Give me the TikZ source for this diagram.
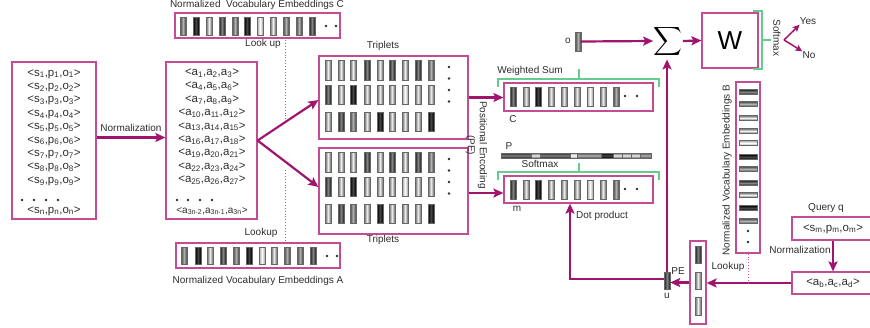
\documentclass[tikz,border=0pt]{standalone}
\usepackage{fontspec}
\setmainfont{Liberation Sans}
\usetikzlibrary{arrows.meta,calc}
\definecolor{pk}{RGB}{196,76,146}
\definecolor{ar}{RGB}{160,20,110}
\definecolor{gr}{RGB}{100,205,140}
\definecolor{tx}{RGB}{45,45,45}
\newcommand\setshade[1]{\ifcase#1\def\shE{35}\def\shM{0}\or\def\shE{58}\def\shM{6}\or\def\shE{72}\def\shM{30}\or\def\shE{88}\def\shM{48}\or\def\shE{100}\def\shM{72}\fi}
\newcommand\vstrip[4]{\setshade{#4}\shade[draw=black!60,line width=0.5pt,left color=black!\shE,right color=black!\shE,middle color=black!\shM] (#1-2.8,#2) rectangle (#1+2.8,#3);}
\newcommand\hstrip[4]{\setshade{#4}\shade[draw=black!60,line width=0.5pt,top color=black!\shE,bottom color=black!\shE,middle color=black!\shM] (#2,#1-2.5) rectangle (#3,#1+2.5);}
\newcommand\spo[1]{<s\textsubscript{#1},p\textsubscript{#1},o\textsubscript{#1}>}
\newcommand\tpa[3]{<a\textsubscript{#1},a\textsubscript{#2},a\textsubscript{#3}>}
\begin{document}
\begin{tikzpicture}[x=1pt,y=-1pt,
  box/.style={draw=pk,line width=1.2pt,inner sep=0pt},
  arr/.style={draw=ar,line width=2.2pt,-{Stealth[length=10pt,width=9pt,inset=2pt]}},
  arrs/.style={draw=ar,line width=1.5pt,-{Stealth[length=7pt,width=6.5pt,inset=1.5pt]}},
  lbl/.style={text=tx,font=\fontsize{10}{12}\selectfont,inner sep=0pt},
  trp/.style={text=tx,font=\fontsize{11.5}{12}\selectfont,inner sep=0pt},
  gbr/.style={draw=gr,line width=1.2pt},
  dotl/.style={draw=pk,line width=0.9pt,dotted}]
\useasboundingbox (0,0) rectangle (870,327);
% ---------- left box
\node[box,minimum width=84pt,minimum height=157pt] (L) at (54,140.5) {};
\foreach \i [count=\k from 0] in {1,...,9} \node[trp] (s\i) at (54,74+13.4*\k) {\spo{\i}};
\node[trp] (sn) at (54,211) {\spo{n}};
\foreach \x in {22,34,46,58} \fill[tx] (\x,200) circle (1.3pt);
% ---------- middle box
\node[box,minimum width=91pt,minimum height=157pt] (M) at (211.5,140.5) {};
\foreach \k in {0,...,8}{\pgfmathtruncatemacro\ia{3*\k+1}\pgfmathtruncatemacro\ib{3*\k+2}\pgfmathtruncatemacro\ic{3*\k+3}
  \node[trp] (a\k) at (212,73+13.4*\k) {\tpa{\ia}{\ib}{\ic}};}
\node[trp,font=\fontsize{10}{12}\selectfont] (an) at (212,211) {\tpa{3n-2}{3n-1}{3n}};
\foreach \x in {177,188,200,212} \fill[tx] (\x,200) circle (1.3pt);
\draw[arr] ([yshift=3pt]L.east) -- ([yshift=3pt]M.west) node[lbl,midway,above=5pt] (nl) {Normalization};
% ---------- strip C
\node[box,minimum width=165pt,minimum height=25pt] (EC) at (257.5,25.5) {};
\foreach \x/\s in {183/2,196/4,209/1,222/3,235/2,247/4,260/0,273/1,286/2,299/2,312/3} {\vstrip{\x}{17}{35}{\s}}
\fill[tx] (326,26) circle (1.3pt) (336,26) circle (1.3pt);
\node[lbl] (ecl) at (257,5) {Normalized\ \ Vocabulary Embeddings C};
\node[lbl] (lu1) at (263,44) {Look up};
\coordinate (d1a) at (285,40); \coordinate (d1b) at (285,120);
\coordinate (d2a) at (285,170); \coordinate (d2b) at (285,242);
\draw[dotl] (d1a) -- (d1b); \draw[dotl] (d2a) -- (d2b);
% ---------- strip A
\node[box,minimum width=164pt,minimum height=25pt] (EA) at (258,255.5) {};
\foreach \x/\s in {184/2,198/4,210/1,223/3,236/2,249/4,262/0,274/1,287/2,300/2,313/3} {\vstrip{\x}{247}{264}{\s}}
\fill[tx] (327,256) circle (1.3pt) (337,256) circle (1.3pt);
\node[lbl] (eal) at (258,281) {Normalized Vocabulary Embeddings A};
\node[lbl] (lu2) at (261,233) {Lookup};
% ---------- triplets
\node[box,minimum width=149pt,minimum height=83pt] (T1) at (393.5,97.5) {};
\node[box,minimum width=149pt,minimum height=86pt] (T2) at (393.5,191) {};
\node[lbl] (tl1) at (383,46) {Triplets};
\node[lbl] (tl2) at (383,240) {Triplets};
\foreach \yo in {0,92}{
 \foreach \x/\s in {328/1,341/1,353/1,367/3,380/1,392/3,405/1,418/3,431/2} {\vstrip{\x}{60+\yo}{80+\yo}{\s}}
 \foreach \x/\s in {328/3,341/1,353/4,367/1,380/1,392/1,405/0,418/1,431/1} {\vstrip{\x}{85+\yo}{104+\yo}{\s}}
 \foreach \x/\s in {328/1,341/3,353/2,367/1,380/4,392/1,405/1,418/1,431/4} {\vstrip{\x}{112+\yo}{131+\yo}{\s}}
 \foreach \y in {67,78.5,90,101.5} \fill[tx] (449,\y+\yo) circle (1.3pt);
}
\draw[arr] (M.east) -- ([yshift=-2.5pt]T1.west);
\draw[arr] (M.east) -- ([yshift=4pt]T2.west);
% ---------- C and m boxes
\node[box,minimum width=149pt,minimum height=28pt] (C) at (578.5,97) {};
\node[box,minimum width=149pt,minimum height=27pt] (Mb) at (578.5,189.5) {};
\foreach \x/\s in {513/3,526/1,538/4,551/1,564/1,577/1,590/0,603/1,616/2} {\vstrip{\x}{87}{106}{\s}\vstrip{\x}{180}{199}{\s}}
\fill[tx] (625,96) circle (1.3pt) (637,96) circle (1.3pt) (625,189) circle (1.3pt) (637,189) circle (1.3pt);
\draw[arr] (T1.east) -- (T1.east -| C.west);
\draw[arr] ([yshift=-2pt]T2.east) -- ([yshift=-2pt]T2.east -| Mb.west);
\node[lbl,rotate=-90,align=center] (pe) at (476.5,145) {Positional Encoding\\(PE)};
\draw[gbr] (498,87) -- (498,79) -- (659,79) -- (659,87) (579,79) -- (579,69);
\node[lbl] (ws) at (530,71) {Weighted Sum};
\node[lbl] (cl) at (513,119) {C};
\foreach \a/\b/\s in {501/531/3,531/540/1,540/570/3,570/577/0,577/601/2,601/613/4,613/622/1,622/631/1,631/640/1,640/651/2} {\hstrip{155.5}{\a}{\b}{\s}}
\node[lbl] (pl) at (509,146) {P};
\node[lbl] (sm1) at (540,164) {Softmax};
\draw[gbr] (498,180) -- (498,172) -- (659,172) -- (659,180) (579,172) -- (579,163);
\node[lbl] (ml) at (517,209) {m};
% ---------- o, sigma, W
\node[inner sep=0pt,minimum width=5pt,minimum height=19pt] (ob) at (578,41.5) {};
\vstrip{578}{32}{51}{2}
\node[lbl] (ol) at (568,41) {o};
\node[inner sep=0pt,scale=2] (sig) at (668,41) {$\displaystyle\sum$};
\node[box,minimum width=56pt,minimum height=55pt,font=\fontsize{26}{26}\selectfont] (W) at (730,40.5) {W};
\draw[arr] (ob.east) -- (sig.west);
\draw[arr] (sig.east) -- (W.west);
\draw[gbr] (753,11) -- (762,11) -- (762,69) -- (753,69) (762,40) -- (771,40);
\node[lbl,rotate=-90] (sm2) at (777,38) {Softmax};
\coordinate (sp) at (784,40);
\node[lbl] (yes) at (808,21) {Yes};
\node[lbl] (no) at (809,55) {No};
\draw[arrs] (sp) -- (yes.south west);
\draw[arrs] (sp) -- (no.north west);
% ---------- B strip
\node[box,minimum width=24pt,minimum height=171pt] (B) at (748,167.5) {};
\foreach \y/\s in {92/3,104/2,118/1,131/1,143/0,157/4,169/2,183/3,195/1,208/4,221/2} {\hstrip{\y}{739}{757}{\s}}
\fill[tx] (748,231) circle (1.3pt) (748,242) circle (1.3pt);
\node[lbl,rotate=90] (bl) at (727,170) {Normalized Vocabulary Embeddings B};
% ---------- query
\node[lbl] (ql) at (826,208) {Query q};
\node[box,minimum width=88pt,minimum height=23pt] (Q) at (836,228.5) {};
\node[trp] (qt) at (833,229) {<s\textsubscript{m},p\textsubscript{m},o\textsubscript{m}>};
\node[box,minimum width=88pt,minimum height=22pt] (ABCD) at (836,283) {};
\node[trp] (abt) at (833,283) {<a\textsubscript{b},a\textsubscript{c},a\textsubscript{d}>};
\draw[arr] ([xshift=-3pt]Q.south) -- ([xshift=-3pt]ABCD.north);
\node[lbl] (nl2) at (800,250) {Normalization};
% ---------- lookup column and u
\node[box,minimum width=16pt,minimum height=83pt] (LC) at (698,282.5) {};
\vstrip{698}{246}{263}{3}\vstrip{698}{272}{289}{1}\vstrip{698}{297}{315}{1}
\node[inner sep=0pt,minimum width=6pt,minimum height=17pt] (u) at (667,280.5) {};
\vstrip{667}{272}{289}{3}
\node[lbl] (ul) at (667,296) {u};
\node[lbl] (pel) at (678,271) {PE};
\draw[arr] (ABCD.west) -- (ABCD.west -| LC.east);
\node[lbl] (lk) at (728,267) {Lookup};
\draw[dotl] (B.south) -- (B.south |- ABCD.west);
\draw[arr] (LC.west) -- (LC.west -| u.east);
\draw[arr,shorten >=2pt] (u.north) -- (u.north |- sig.south);
\draw[arr] ([yshift=1.5pt]u.west) -| ([xshift=-8.5pt]Mb.south);
\node[lbl,anchor=west] (dp) at (576,216) {Dot product};
\end{tikzpicture}
\end{document}
